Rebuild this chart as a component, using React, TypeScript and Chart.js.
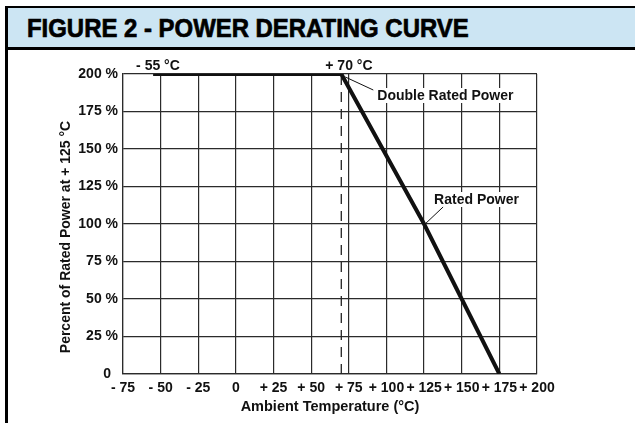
import React, { useEffect, useRef } from 'react';
import { Chart, registerables } from 'chart.js';

Chart.register(...registerables);

// ---- data ----
const temps = [-55, 70, 125, 175];
const powerPct = [200, 200, 100, 0];
const dashedTemp = 70;
const xTickValues = [-75, -50, -25, 0, 25, 50, 75, 100, 125, 150, 175, 200];
const xTickLabels = ['- 75', '- 50', '- 25', '0', '+ 25', '+ 50', '+ 75', '+ 100', '+ 125', '+ 150', '+ 175', '+ 200'];
const yTickValues = [0, 25, 50, 75, 100, 125, 150, 175, 200];
const yTickLabels = ['0\u2002', '25 %', '50 %', '75 %', '100 %', '125 %', '150 %', '175 %', '200 %'];
const titleText = 'FIGURE 2 - POWER DERATING CURVE';
const xTitle = 'Ambient Temperature (°C)';
const yTitle = 'Percent of Rated Power at + 125 °C';
const startLabel = '- 55 °C';
const kneeLabel = '+ 70 °C';
const doubleLabel = 'Double Rated Power';
const ratedLabel = 'Rated Power';

const FAMILY = "'Liberation Sans', Arial, Helvetica, sans-serif";
const INK = '#111111';
const GRID = '#2b2b2b';

const annotPlugin = {
  id: 'annot',
  afterDraw(chart: any) {
    const ctx = chart.ctx;
    const xs = chart.scales.x;
    const ys = chart.scales.y;
    const ca = chart.chartArea;
    ctx.save();
    ctx.font = `bold 14px ${FAMILY}`;
    ctx.fillStyle = INK;
    ctx.textBaseline = 'alphabetic';
    ctx.textAlign = 'left';

    const px55 = xs.getPixelForValue(temps[0]);
    const py55 = ys.getPixelForValue(powerPct[0]);
    ctx.fillText(startLabel, px55 - 17, py55 - 4);

    const pxK = xs.getPixelForValue(temps[1]);
    const pyK = ys.getPixelForValue(powerPct[1]);
    ctx.fillText(kneeLabel, pxK - 16, pyK - 4);

    const drawBoxed = (text: string, x: number, y: number) => {
      const w = ctx.measureText(text).width;
      ctx.fillStyle = '#ffffff';
      ctx.fillRect(x - 2, y - 12, w + 4, 15);
      ctx.fillStyle = INK;
      ctx.fillText(text, x, y);
    };
    drawBoxed(doubleLabel, pxK + 36, pyK + 26);

    const pxR = xs.getPixelForValue(temps[2]);
    const pyR = ys.getPixelForValue(powerPct[2]);
    drawBoxed(ratedLabel, pxR + 10, pyR - 20);

    ctx.strokeStyle = INK;
    ctx.lineWidth = 1;
    ctx.beginPath();
    ctx.moveTo(pxK + 4, pyK + 3);
    ctx.lineTo(pxK + 32, pyK + 16);
    ctx.moveTo(pxR + 1, pyR);
    ctx.lineTo(pxR + 19, pyR - 17);
    ctx.stroke();

    // y axis title
    ctx.font = `bold 14px ${FAMILY}`;
    ctx.textAlign = 'center';
    ctx.textBaseline = 'middle';
    ctx.translate(66, (ca.top + ca.bottom) / 2 + 13);
    ctx.rotate(-Math.PI / 2);
    ctx.fillText(yTitle, 0, 0);
    ctx.restore();
  },
};

export default function App() {
  const ref = useRef<HTMLCanvasElement>(null);
  useEffect(() => {
    const tickFont = { family: FAMILY, size: 14, weight: 'bold' as const };
    const chart = new Chart(ref.current as HTMLCanvasElement, {
      type: 'scatter',
      data: {
        datasets: [
          {
            data: temps.map((t, i) => ({ x: t, y: powerPct[i] })),
            showLine: true,
            borderColor: INK,
            borderWidth: 4,
            pointRadius: 0,
            borderJoinStyle: 'miter',
            borderCapStyle: 'butt',
            order: 0,
          } as any,
          {
            data: [{ x: dashedTemp, y: 0 }, { x: dashedTemp, y: 200 }],
            showLine: true,
            borderColor: '#222222',
            borderWidth: 1.3,
            borderDash: [10, 7],
            pointRadius: 0,
            order: 1,
          } as any,
        ],
      },
      options: {
        animation: false,
        responsive: false,
        layout: { padding: { left: 58, top: 74, right: 98, bottom: 0 } },
        plugins: { legend: { display: false }, tooltip: { enabled: false } },
        scales: {
          x: {
            type: 'linear',
            min: -75,
            max: 200,
            afterBuildTicks: (s: any) => { s.ticks = xTickValues.map((v) => ({ value: v })); },
            afterFit: (s: any) => { s.height = 49; },
            grid: { color: GRID, lineWidth: 1.2, drawTicks: false },
            border: { color: GRID, width: 1.2 },
            ticks: {
              padding: 6,
              font: tickFont,
              color: INK,
              autoSkip: false,
              maxRotation: 0,
              callback: (_v: any, i: number) => xTickLabels[i],
            },
            title: {
              display: true,
              text: xTitle,
              font: { family: FAMILY, size: 14.5, weight: 'bold' },
              color: INK,
              padding: { top: 0, bottom: 7 },
            },
          },
          y: {
            type: 'linear',
            min: 0,
            max: 200,
            afterBuildTicks: (s: any) => { s.ticks = yTickValues.map((v) => ({ value: v })); },
            afterFit: (s: any) => { s.width = 65; },
            grid: { color: GRID, lineWidth: 1.2, drawTicks: false },
            border: { color: GRID, width: 1.2 },
            ticks: {
              padding: 5,
              font: tickFont,
              color: INK,
              autoSkip: false,
              callback: (_v: any, i: number) => yTickLabels[i],
            },
          },
        },
      },
      plugins: [annotPlugin],
    } as any);
    return () => chart.destroy();
  }, []);

  return (
    <div style={{ position: 'fixed', left: 0, top: 0, width: 635, height: 423, background: '#ffffff', overflow: 'hidden' }}>
      <div style={{ position: 'absolute', left: 5, top: 6, width: 630, height: 417, borderLeft: '3px solid #000', boxSizing: 'border-box' }} />
      <div
        style={{
          position: 'absolute', left: 5, top: 6, width: 630, height: 44,
          background: '#cce5f3', borderTop: '2px solid #000', borderBottom: '3px solid #000',
          borderLeft: '3px solid #000', boxSizing: 'border-box',
        }}
      >
        <span
          style={{
            position: 'absolute', left: 19, top: 7, whiteSpace: 'nowrap',
            font: `bold 26px ${FAMILY}`, lineHeight: '26px', color: '#000',
            transform: 'scaleX(0.92)', transformOrigin: 'left center',
            WebkitTextStroke: '0.7px #000',
          }}
        >
          {titleText}
        </span>
      </div>
      <canvas ref={ref} width={635} height={423} style={{ position: 'absolute', left: 0, top: 0, width: 635, height: 423 }} />
    </div>
  );
}
